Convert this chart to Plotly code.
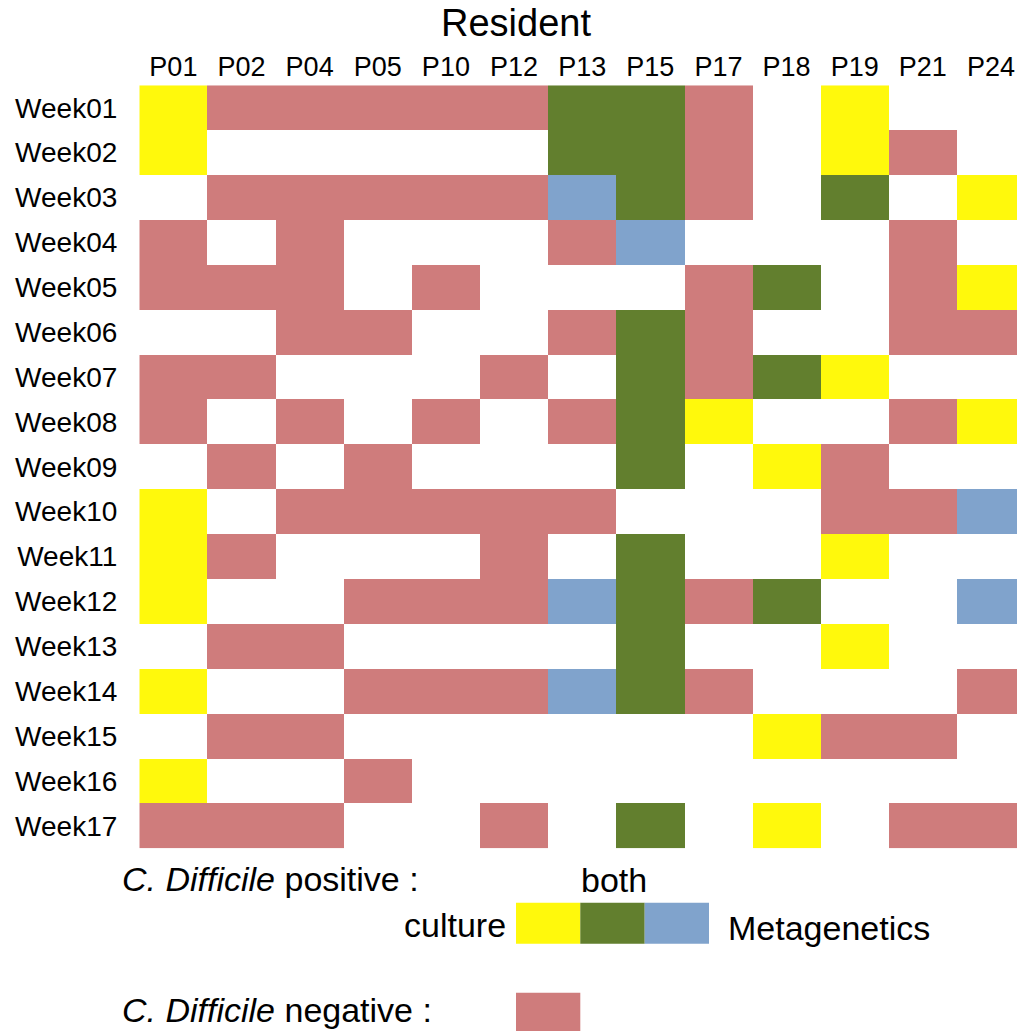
import plotly.graph_objects as go

residents = ["P01", "P02", "P04", "P05", "P10", "P12", "P13", "P15", "P17", "P18", "P19", "P21", "P24"]
weeks = ["Week%02d" % i for i in range(1, 18)]

# 0 = no sample, 1 = negative, 2 = culture, 3 = both, 4 = metagenetics
status = [
    [2, 1, 1, 1, 1, 1, 3, 3, 1, 0, 2, 0, 0],
    [2, 0, 0, 0, 0, 0, 3, 3, 1, 0, 2, 1, 0],
    [0, 1, 1, 1, 1, 1, 4, 3, 1, 0, 3, 0, 2],
    [1, 0, 1, 0, 0, 0, 1, 4, 0, 0, 0, 1, 0],
    [1, 1, 1, 0, 1, 0, 0, 0, 1, 3, 0, 1, 2],
    [0, 0, 1, 1, 0, 0, 1, 3, 1, 0, 0, 1, 1],
    [1, 1, 0, 0, 0, 1, 0, 3, 1, 3, 2, 0, 0],
    [1, 0, 1, 0, 1, 0, 1, 3, 2, 0, 0, 1, 2],
    [0, 1, 0, 1, 0, 0, 0, 3, 0, 2, 1, 0, 0],
    [2, 0, 1, 1, 1, 1, 1, 0, 0, 0, 1, 1, 4],
    [2, 1, 0, 0, 0, 1, 0, 3, 0, 0, 2, 0, 0],
    [2, 0, 0, 1, 1, 1, 4, 3, 1, 3, 0, 0, 4],
    [0, 1, 1, 0, 0, 0, 0, 3, 0, 0, 2, 0, 0],
    [2, 0, 0, 1, 1, 1, 4, 3, 1, 0, 0, 0, 1],
    [0, 1, 1, 0, 0, 0, 0, 0, 0, 2, 1, 1, 0],
    [2, 0, 0, 1, 0, 0, 0, 0, 0, 0, 0, 0, 0],
    [1, 1, 1, 0, 0, 1, 0, 3, 0, 2, 0, 1, 1],
]

WHITE = "#FFFFFF"
PINK = "#CF7C7C"
YELLOW = "#FFF90C"
GREEN = "#627F2E"
BLUE = "#80A3CC"

# page body has an 8px margin: figure spans window pixels 8..1025 / 8..1031
OFF = 8
W, H = 1025 - OFF, 1031 - OFF
FONT = "Liberation Sans, Arial, sans-serif"

cols = [WHITE, PINK, YELLOW, GREEN, BLUE]
colorscale = []
n = len(cols)
for i, c in enumerate(cols):
    colorscale.append([i / n, c])
    colorscale.append([(i + 1) / n, c])

fig = go.Figure(
    go.Heatmap(
        z=status,
        x=residents,
        y=weeks,
        zmin=-0.5,
        zmax=4.5,
        colorscale=colorscale,
        showscale=False,
        hoverinfo="skip",
    )
)


def px(x):
    return min(1.0, max(0.0, (x - OFF) / W))


def py(y):
    return min(1.0, max(0.0, 1 - (y - OFF) / H))


fig.update_layout(
    width=W,
    height=H,
    margin=dict(l=0, r=0, t=0, b=0),
    paper_bgcolor="white",
    plot_bgcolor="white",
    font=dict(family=FONT, color="black"),
    xaxis=dict(
        domain=[px(139.3), px(1025.6)],
        side="top",
        showgrid=False,
        zeroline=False,
        showline=False,
        ticks="",
        tickfont=dict(size=27, family=FONT, color="black"),
        ticklabelstandoff=3,
        fixedrange=True,
    ),
    yaxis=dict(
        domain=[py(848.3), py(85.3)],
        autorange="reversed",
        showgrid=False,
        zeroline=False,
        showline=False,
        ticks="",
        tickfont=dict(size=28, family=FONT, color="black"),
        ticklabelstandoff=21,
        fixedrange=True,
    ),
    showlegend=False,
)

ann = []
ann.append(dict(text="Resident", x=px(515.5), y=py(23.5), xanchor="center", yanchor="middle",
                font=dict(size=38)))
ann.append(dict(text="<i>C. Difficile</i> positive :", x=px(120), y=py(879), xanchor="left", yanchor="middle",
                font=dict(size=34)))
ann.append(dict(text="both", x=px(614), y=py(880), xanchor="center", yanchor="middle", font=dict(size=34)))
ann.append(dict(text="culture", x=px(508), y=py(925), xanchor="right", yanchor="middle", font=dict(size=34)))
ann.append(dict(text="Metagenetics", x=px(726), y=py(928), xanchor="left", yanchor="middle", font=dict(size=34)))
ann.append(dict(text="<i>C. Difficile</i> negative :", x=px(120), y=py(1010), xanchor="left", yanchor="middle",
                font=dict(size=34)))
for a in ann:
    a.update(xref="paper", yref="paper", showarrow=False)
    a["font"].update(family=FONT, color="black")
fig.update_layout(annotations=ann)

legend_boxes = [
    (516, 580.3, 902.7, 943.7, YELLOW),
    (580.3, 644.7, 902.7, 943.7, GREEN),
    (644.7, 709, 902.7, 943.7, BLUE),
    (516, 580.3, 992.7, 1031, PINK),
]
shapes = []
for x0, x1, y0, y1, c in legend_boxes:
    shapes.append(dict(type="rect", xref="paper", yref="paper", x0=px(x0), x1=px(x1), y0=py(y1), y1=py(y0),
                       fillcolor=c, line=dict(width=0)))
fig.update_layout(shapes=shapes)

fig.write_html("out.html", config={"displayModeBar": False})
